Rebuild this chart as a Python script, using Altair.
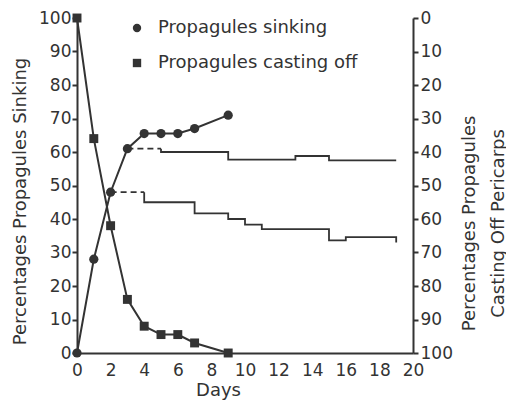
import altair as alt
import pandas as pd

# --- data ---
sink_days = [0, 1, 2, 3, 4, 5, 6, 7, 9]
sink_vals = [0, 28, 48, 61, 65.5, 65.5, 65.5, 67, 71]          # left axis

cast_days = [0, 1, 2, 3, 4, 5, 6, 7, 9]
cast_vals = [0, 36, 62, 84, 92, 94.5, 94.5, 97, 100]            # right axis (reversed)

upper_dash_days = [3, 5]
upper_dash_vals = [39, 39]
upper_step_days = [5, 5, 9, 13, 15, 19]
upper_step_vals = [39, 40, 42.3, 41.2, 42.5, 42.5]

lower_dash_days = [2, 4]
lower_dash_vals = [52, 52]
lower_step_days = [4, 4, 7, 9, 10, 11, 15, 16, 19]
lower_step_vals = [52, 55, 58.3, 60, 61.7, 63, 66.4, 65.4, 67]

series_names = ["Propagules sinking", "Propagules casting off"]
y_ticks = list(range(0, 101, 10))
x_ticks = list(range(0, 21, 2))

INK = "#333333"
FONT = "DejaVu Sans"

sink_df = pd.DataFrame({"day": sink_days, "value": sink_vals, "series": series_names[0]})
cast_df = pd.DataFrame({"day": cast_days, "value": cast_vals, "series": series_names[1]})
ud_df = pd.DataFrame({"day": upper_dash_days, "value": upper_dash_vals})
us_df = pd.DataFrame({"day": upper_step_days, "value": upper_step_vals})
ld_df = pd.DataFrame({"day": lower_dash_days, "value": lower_dash_vals})
ls_df = pd.DataFrame({"day": lower_step_days, "value": lower_step_vals})

x_enc = alt.X(
    "day:Q",
    scale=alt.Scale(domain=[0, 20], nice=False),
    axis=alt.Axis(
        values=x_ticks, title="Days", tickSize=0, labelPadding=9, labelFlush=False,
        titleX=141, titleY=37, titleBaseline="middle", titleAlign="center",
    ),
)

y_left = alt.Y(
    "value:Q",
    scale=alt.Scale(domain=[0, 100], nice=False),
    axis=alt.Axis(
        orient="left", values=y_ticks, title="Percentages Propagules Sinking",
        tickSize=5, labelPadding=1, labelFlush=False,
        titleAngle=270, titleX=-57, titleY=183,
        titleAlign="center", titleBaseline="middle",
    ),
)

y_right = alt.Y(
    "value:Q",
    scale=alt.Scale(domain=[0, 100], reverse=True, nice=False),
    axis=alt.Axis(
        orient="right", values=y_ticks,
        title=["Percentages Propagules", "Casting Off Pericarps"],
        tickSize=5, labelPadding=2, labelFlush=False,
        titleAngle=270, titleX=56, titleY=205,
        titleAlign="center", titleBaseline="middle", titleLineHeight=29,
    ),
)

shape_enc = alt.Shape(
    "series:N",
    scale=alt.Scale(domain=series_names, range=["circle", "square"]),
    legend=alt.Legend(
        orient="none", legendX=51, legendY=1, title=None,
        labelFontSize=18, labelFont=FONT, labelColor=INK, labelLimit=400,
        symbolSize=70, symbolFillColor=INK, symbolStrokeColor=INK,
        symbolStrokeWidth=0, rowPadding=17, labelOffset=12, padding=0,
    ),
)

sink_line = alt.Chart(sink_df).mark_line(color=INK, strokeWidth=2).encode(x=x_enc, y=y_left)
sink_pts = alt.Chart(sink_df).mark_point(filled=True, color=INK, size=85, opacity=1).encode(
    x=x_enc, y=y_left, shape=shape_enc
)
left = alt.layer(sink_line, sink_pts)

cast_line = alt.Chart(cast_df).mark_line(color=INK, strokeWidth=2).encode(x=x_enc, y=y_right)
cast_pts = alt.Chart(cast_df).mark_point(filled=True, color=INK, size=80, opacity=1).encode(
    x=x_enc, y=y_right, shape=shape_enc
)
ud = alt.Chart(ud_df).mark_line(color=INK, strokeWidth=1.8, strokeDash=[6, 4]).encode(x=x_enc, y=y_right)
ld = alt.Chart(ld_df).mark_line(color=INK, strokeWidth=1.8, strokeDash=[6, 4]).encode(x=x_enc, y=y_right)
us = alt.Chart(us_df).mark_line(color=INK, strokeWidth=1.8, interpolate="step-after").encode(x=x_enc, y=y_right)
ls = alt.Chart(ls_df).mark_line(color=INK, strokeWidth=1.8, interpolate="step-after").encode(x=x_enc, y=y_right)
right = alt.layer(ud, ld, us, ls, cast_line, cast_pts)

chart = (
    alt.layer(left, right)
    .resolve_scale(y="independent")
    .properties(
        width=336, height=335,
        autosize=alt.AutoSizeParams(type="none"),
        padding={"left": 69, "top": 10, "right": 93, "bottom": 47},
        background="white",
    )
    .configure_view(stroke=None)
    .configure_axis(
        grid=False, domainColor=INK, domainWidth=2, tickColor=INK, tickWidth=2,
        labelFont=FONT, labelFontSize=17, labelColor=INK,
        titleFont=FONT, titleFontSize=18, titleFontWeight="normal", titleColor=INK,
    )
)

chart.save("out.html", embed_options={"renderer": "svg", "actions": False})
